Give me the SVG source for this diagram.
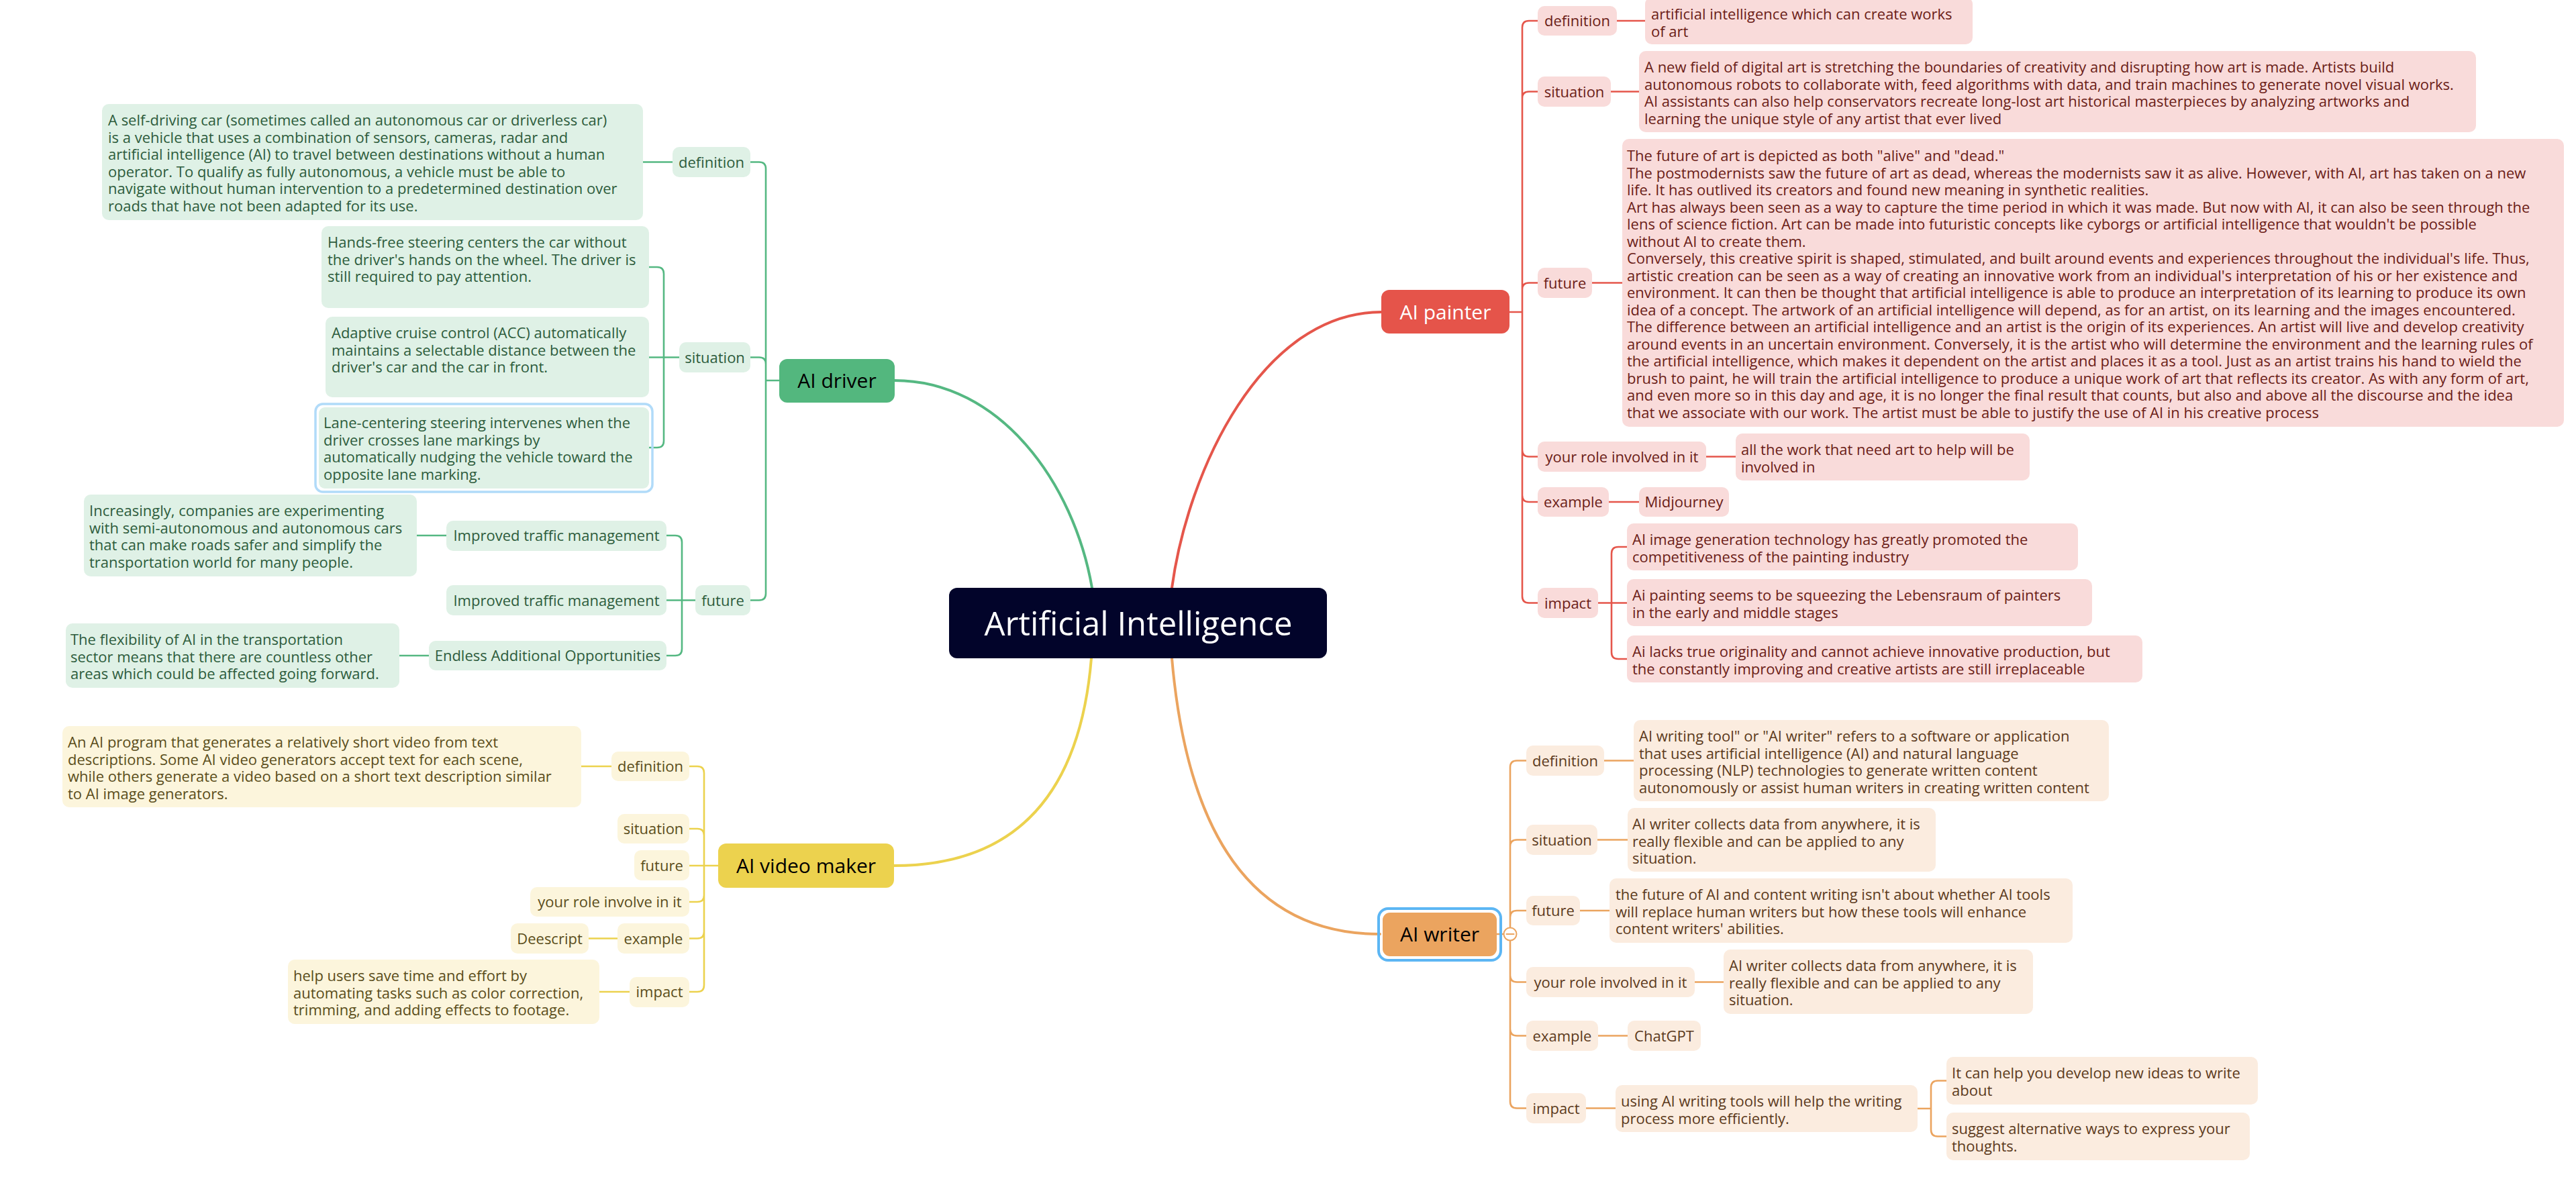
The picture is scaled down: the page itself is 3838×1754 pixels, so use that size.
<svg xmlns="http://www.w3.org/2000/svg" width="3838" height="1754" viewBox="0 0 3838 1754">
<style>
text{font-family:"Open Sans","Noto Sans","Liberation Sans",sans-serif;font-size:22px}
.lbl{text-anchor:middle}
.c{fill:none;stroke-linecap:round;stroke-linejoin:round}
.main{stroke-width:4}
.br{stroke-width:2.6}
.gS{stroke:#55b882}.gF{fill:#dff1e6}.gT{fill:#2d5c3c}
.rS{stroke:#e5564b}.rF{fill:#f9dbda}.rT{fill:#6b1d17}
.yS{stroke:#ecd24e}.yF{fill:#fcf5dc}.yT{fill:#5a4d1a}
.oS{stroke:#eba45f}.oF{fill:#fbecdf}.oT{fill:#5c3a1c}
.node{font-size:30px;text-anchor:middle}
</style>
<rect width="3838" height="1754" fill="#ffffff"/>
<g id="connectors">
<g class="c gS">
<path class="main" d="M1333,567 C1490,567 1600,720 1627,876"/>
<path class="br" d="M1161,567 H1141 M1141,251.5 V884.5 M1118,241.5 H1131 Q1141,241.5 1141,251.5 M1118,532.5 H1131 Q1141,532.5 1141,542.5 M1118,894.5 H1131 Q1141,894.5 1141,884.5"/>
<path class="br" d="M958,241.5 H1002 M967,532.5 H1012 M989,408 V657 M967,398 H979 Q989,398 989,408 M967,667 H979 Q989,667 989,657"/>
<path class="br" d="M993,894.5 H1036 M1016,808 V967 M993,798 H1006 Q1016,798 1016,808 M993,977 H1006 Q1016,977 1016,967 M621,798 H665 M595,977 H639"/>
</g>
<g class="c yS">
<path class="main" d="M1626,981 C1612,1150 1540,1290 1332,1290"/>
<path class="br" d="M1070,1290 H1027 M1049,1152 V1468 M1027,1142 H1039 Q1049,1142 1049,1152 M1027,1235 H1039 Q1049,1235 1049,1245 M1027,1344 H1039 Q1049,1344 1049,1334 M1027,1398.5 H1039 Q1049,1398.5 1049,1388.5 M1027,1478 H1039 Q1049,1478 1049,1468"/>
<path class="br" d="M866,1142 H911 M877,1398.5 H920 M893,1478 H938"/>
</g>
<g class="c rS">
<path class="main" d="M1746,876 C1770,700 1880,465 2058,465"/>
<path class="br" d="M2249,465 H2268 M2268,41 V888.5 M2291,31 H2278 Q2268,31 2268,41 M2291,136.5 H2278 Q2268,136.5 2268,146.5 M2291,421.5 H2278 Q2268,421.5 2268,431.5 M2291,680.5 H2278 Q2268,680.5 2268,670.5 M2291,748 H2278 Q2268,748 2268,738 M2291,898.5 H2278 Q2268,898.5 2268,888.5"/>
<path class="br" d="M2409,31 H2451 M2400,136.5 H2442 M2372,421.5 H2417 M2542,680.5 H2586 M2397,748 H2442 M2381,898.5 H2424 M2401,825 V972 M2424,815 H2411 Q2401,815 2401,825 M2424,982 H2411 Q2401,982 2401,972"/>
</g>
<g class="c oS">
<path class="main" d="M1746,981 C1765,1200 1840,1392 2056,1392"/>
<path class="br" d="M2230,1392 H2250 M2250,1143.5 V1641.5 M2274,1133.5 H2260 Q2250,1133.5 2250,1143.5 M2274,1251.5 H2260 Q2250,1251.5 2250,1261.5 M2274,1357 H2260 Q2250,1357 2250,1367 M2274,1463.5 H2260 Q2250,1463.5 2250,1453.5 M2274,1543.5 H2260 Q2250,1543.5 2250,1533.5 M2274,1651.5 H2260 Q2250,1651.5 2250,1641.5"/>
<path class="br" d="M2390,1133.5 H2434 M2380,1251.5 H2425 M2354,1357 H2398 M2525,1463.5 H2568 M2381,1543.5 H2425 M2363,1651.5 H2407 M2857,1652 H2877 M2877,1620.5 V1683.5 M2900,1610.5 H2887 Q2877,1610.5 2877,1620.5 M2900,1693.5 H2887 Q2877,1693.5 2877,1683.5"/>
<circle cx="2250" cy="1392" r="9.5" fill="#ffffff" stroke-width="2"/>
<path d="M2244.5,1392 H2255.5" stroke-width="2"/>
</g>
</g>

<g id="central">
<rect x="1414" y="876" width="563" height="105" rx="12" fill="#02042a"/>
<text x="1696" y="947" fill="#ffffff" font-size="49" text-anchor="middle" style="font-size:49px">Artificial Intelligence</text>
</g>

<!-- AI driver -->
<g id="ai-driver">
<rect x="1161" y="535" width="172" height="65" rx="12" fill="#53b77e"/>
<text class="node" x="1247" y="578" fill="#000000">AI driver</text>
</g>
<g id="driver-definition">
<rect class="gF" x="1002" y="219" width="116" height="45" rx="10"/>
<text class="lbl gT" x="1060" y="249.5">definition</text>
</g>
<g id="driver-definition-text">
<rect class="gF" x="152" y="155" width="806" height="173" rx="10"/>
<text class="gT"><tspan x="161" y="187">A self-driving car (sometimes called an autonomous car or driverless car)</tspan><tspan x="161" y="212.5">is a vehicle that uses a combination of sensors, cameras, radar and</tspan><tspan x="161" y="238">artificial intelligence (AI) to travel between destinations without a human</tspan><tspan x="161" y="263.5">operator. To qualify as fully autonomous, a vehicle must be able to</tspan><tspan x="161" y="289">navigate without human intervention to a predetermined destination over</tspan><tspan x="161" y="314.5">roads that have not been adapted for its use.</tspan></text>
</g>
<g id="driver-situation">
<rect class="gF" x="1012" y="510" width="106" height="45" rx="10"/>
<text class="lbl gT" x="1065" y="540.5">situation</text>
</g>
<g id="driver-handsfree">
<rect class="gF" x="479" y="337" width="488" height="122" rx="10"/>
<text class="gT"><tspan x="488" y="369">Hands-free steering centers the car without</tspan><tspan x="488" y="394.5">the driver's hands on the wheel. The driver is</tspan><tspan x="488" y="420">still required to pay attention.</tspan></text>
</g>
<g id="driver-acc">
<rect class="gF" x="485" y="472" width="482" height="120" rx="10"/>
<text class="gT"><tspan x="494" y="504">Adaptive cruise control (ACC) automatically</tspan><tspan x="494" y="529.5">maintains a selectable distance between the</tspan><tspan x="494" y="555">driver's car and the car in front.</tspan></text>
</g>
<g id="driver-lane">
<rect x="470" y="602" width="502" height="131" rx="11" fill="none" stroke="#b1dbf9" stroke-width="3.5"/>
<rect class="gF" x="475" y="607" width="492" height="121" rx="9"/>
<text class="gT"><tspan x="482" y="638">Lane-centering steering intervenes when the</tspan><tspan x="482" y="663.5">driver crosses lane markings by</tspan><tspan x="482" y="689">automatically nudging the vehicle toward the</tspan><tspan x="482" y="714.5">opposite lane marking.</tspan></text>
</g>
<g id="driver-future">
<rect class="gF" x="1036" y="872" width="82" height="45" rx="10"/>
<text class="lbl gT" x="1077" y="902.5">future</text>
</g>
<g id="driver-traffic-1">
<rect class="gF" x="665" y="776" width="328" height="45" rx="10"/>
<text class="lbl gT" x="829" y="806">Improved traffic management</text>
</g>
<g id="driver-traffic-1-text">
<rect class="gF" x="125" y="737" width="496" height="122" rx="10"/>
<text class="gT"><tspan x="133" y="769">Increasingly, companies are experimenting</tspan><tspan x="133" y="794.5">with semi-autonomous and autonomous cars</tspan><tspan x="133" y="820">that can make roads safer and simplify the</tspan><tspan x="133" y="845.5">transportation world for many people.</tspan></text>
</g>
<g id="driver-traffic-2">
<rect class="gF" x="665" y="872" width="328" height="45" rx="10"/>
<text class="lbl gT" x="829" y="902.5">Improved traffic management</text>
</g>
<g id="driver-opportunities">
<rect class="gF" x="639" y="955" width="354" height="44" rx="10"/>
<text class="lbl gT" x="816" y="985">Endless Additional Opportunities</text>
</g>
<g id="driver-opportunities-text">
<rect class="gF" x="98" y="929" width="497" height="96" rx="10"/>
<text class="gT"><tspan x="105" y="961">The flexibility of AI in the transportation</tspan><tspan x="105" y="986.5">sector means that there are countless other</tspan><tspan x="105" y="1012">areas which could be affected going forward.</tspan></text>
</g>

<!-- AI video maker -->
<g id="ai-video-maker">
<rect x="1070" y="1257" width="262" height="66" rx="12" fill="#ecd24e"/>
<text class="node" x="1201" y="1301" fill="#000000">AI video maker</text>
</g>
<g id="video-definition">
<rect class="yF" x="911" y="1120" width="116" height="44" rx="10"/>
<text class="lbl yT" x="969" y="1150">definition</text>
</g>
<g id="video-definition-text">
<rect class="yF" x="93" y="1082" width="773" height="121" rx="10"/>
<text class="yT"><tspan x="101" y="1114">An AI program that generates a relatively short video from text</tspan><tspan x="101" y="1139.5">descriptions. Some AI video generators accept text for each scene,</tspan><tspan x="101" y="1165">while others generate a video based on a short text description similar</tspan><tspan x="101" y="1190.5">to AI image generators.</tspan></text>
</g>
<g id="video-situation">
<rect class="yF" x="920" y="1213" width="107" height="44" rx="10"/>
<text class="lbl yT" x="973.5" y="1243">situation</text>
</g>
<g id="video-future">
<rect class="yF" x="945" y="1267" width="82" height="45" rx="10"/>
<text class="lbl yT" x="986" y="1297.5">future</text>
</g>
<g id="video-role">
<rect class="yF" x="790" y="1322" width="237" height="44" rx="10"/>
<text class="lbl yT" x="908.5" y="1352">your role involve in it</text>
</g>
<g id="video-example">
<rect class="yF" x="920" y="1376" width="107" height="45" rx="10"/>
<text class="lbl yT" x="973.5" y="1406.5">example</text>
</g>
<g id="video-deescript">
<rect class="yF" x="761" y="1376" width="116" height="45" rx="10"/>
<text class="lbl yT" x="819" y="1406.5">Deescript</text>
</g>
<g id="video-impact">
<rect class="yF" x="938" y="1456" width="89" height="45" rx="10"/>
<text class="lbl yT" x="982.5" y="1486">impact</text>
</g>
<g id="video-impact-text">
<rect class="yF" x="429" y="1430" width="464" height="96" rx="10"/>
<text class="yT"><tspan x="437" y="1462">help users save time and effort by</tspan><tspan x="437" y="1487.5">automating tasks such as color correction,</tspan><tspan x="437" y="1513">trimming, and adding effects to footage.</tspan></text>
</g>

<!-- AI painter -->
<g id="ai-painter">
<rect x="2058" y="432" width="191" height="65" rx="12" fill="#e5544a"/>
<text class="node" x="2153.5" y="476" fill="#ffffff">AI painter</text>
</g>
<g id="painter-definition">
<rect class="rF" x="2291" y="9" width="118" height="44" rx="10"/>
<text class="lbl rT" x="2350" y="39">definition</text>
</g>
<g id="painter-definition-text">
<rect class="rF" x="2451" y="-4" width="488" height="70" rx="10"/>
<text class="rT"><tspan x="2460" y="29">artificial intelligence which can create works</tspan><tspan x="2460" y="54.5">of art</tspan></text>
</g>
<g id="painter-situation">
<rect class="rF" x="2291" y="114" width="109" height="45" rx="10"/>
<text class="lbl rT" x="2345.5" y="144.5">situation</text>
</g>
<g id="painter-situation-text">
<rect class="rF" x="2442" y="76" width="1247" height="121" rx="10"/>
<text class="rT"><tspan x="2450" y="108">A new field of digital art is stretching the boundaries of creativity and disrupting how art is made. Artists build</tspan><tspan x="2450" y="133.5">autonomous robots to collaborate with, feed algorithms with data, and train machines to generate novel visual works.</tspan><tspan x="2450" y="159">AI assistants can also help conservators recreate long-lost art historical masterpieces by analyzing artworks and</tspan><tspan x="2450" y="184.5">learning the unique style of any artist that ever lived</tspan></text>
</g>
<g id="painter-future">
<rect class="rF" x="2291" y="399" width="81" height="45" rx="10"/>
<text class="lbl rT" x="2331.5" y="429.5">future</text>
</g>
<g id="painter-future-text">
<rect class="rF" x="2417" y="207" width="1403" height="429" rx="10"/>
<text class="rT"><tspan x="2424" y="240">The future of art is depicted as both "alive" and "dead."</tspan><tspan x="2424" y="265.5">The postmodernists saw the future of art as dead, whereas the modernists saw it as alive. However, with AI, art has taken on a new</tspan><tspan x="2424" y="291">life. It has outlived its creators and found new meaning in synthetic realities.</tspan><tspan x="2424" y="316.5">Art has always been seen as a way to capture the time period in which it was made. But now with AI, it can also be seen through the</tspan><tspan x="2424" y="342">lens of science fiction. Art can be made into futuristic concepts like cyborgs or artificial intelligence that wouldn't be possible</tspan><tspan x="2424" y="367.5">without AI to create them.</tspan><tspan x="2424" y="393">Conversely, this creative spirit is shaped, stimulated, and built around events and experiences throughout the individual's life. Thus,</tspan><tspan x="2424" y="418.5">artistic creation can be seen as a way of creating an innovative work from an individual's interpretation of his or her existence and</tspan><tspan x="2424" y="444">environment. It can then be thought that artificial intelligence is able to produce an interpretation of its learning to produce its own</tspan><tspan x="2424" y="469.5">idea of a concept. The artwork of an artificial intelligence will depend, as for an artist, on its learning and the images encountered.</tspan><tspan x="2424" y="495">The difference between an artificial intelligence and an artist is the origin of its experiences. An artist will live and develop creativity</tspan><tspan x="2424" y="520.5">around events in an uncertain environment. Conversely, it is the artist who will determine the environment and the learning rules of</tspan><tspan x="2424" y="546">the artificial intelligence, which makes it dependent on the artist and places it as a tool. Just as an artist trains his hand to wield the</tspan><tspan x="2424" y="571.5">brush to paint, he will train the artificial intelligence to produce a unique work of art that reflects its creator. As with any form of art,</tspan><tspan x="2424" y="597">and even more so in this day and age, it is no longer the final result that counts, but also and above all the discourse and the idea</tspan><tspan x="2424" y="622.5">that we associate with our work. The artist must be able to justify the use of AI in his creative process</tspan></text>
</g>
<g id="painter-role">
<rect class="rF" x="2291" y="658" width="251" height="45" rx="10"/>
<text class="lbl rT" x="2416.5" y="688.5">your role involved in it</text>
</g>
<g id="painter-role-text">
<rect class="rF" x="2586" y="646" width="438" height="70" rx="10"/>
<text class="rT"><tspan x="2594" y="678">all the work that need art to help will be</tspan><tspan x="2594" y="703.5">involved in</tspan></text>
</g>
<g id="painter-example">
<rect class="rF" x="2291" y="726" width="106" height="44" rx="10"/>
<text class="lbl rT" x="2344" y="756">example</text>
</g>
<g id="painter-midjourney">
<rect class="rF" x="2442" y="726" width="134" height="44" rx="10"/>
<text class="lbl rT" x="2509" y="756">Midjourney</text>
</g>
<g id="painter-impact">
<rect class="rF" x="2291" y="876" width="90" height="45" rx="10"/>
<text class="lbl rT" x="2336" y="906.5">impact</text>
</g>
<g id="painter-impact-1">
<rect class="rF" x="2424" y="780" width="672" height="70" rx="10"/>
<text class="rT"><tspan x="2432" y="812">AI image generation technology has greatly promoted the</tspan><tspan x="2432" y="837.5">competitiveness of the painting industry</tspan></text>
</g>
<g id="painter-impact-2">
<rect class="rF" x="2424" y="863" width="693" height="70" rx="10"/>
<text class="rT"><tspan x="2432" y="895">Ai painting seems to be squeezing the Lebensraum of painters</tspan><tspan x="2432" y="920.5">in the early and middle stages</tspan></text>
</g>
<g id="painter-impact-3">
<rect class="rF" x="2424" y="947" width="768" height="70" rx="10"/>
<text class="rT"><tspan x="2432" y="979">Ai lacks true originality and cannot achieve innovative production, but</tspan><tspan x="2432" y="1004.5">the constantly improving and creative artists are still irreplaceable</tspan></text>
</g>

<!-- AI writer -->
<g id="ai-writer">
<rect x="2054" y="1354" width="182" height="77" rx="14" fill="none" stroke="#5cb6f4" stroke-width="4"/>
<rect x="2060" y="1360" width="170" height="65" rx="11" fill="#eba45f"/>
<text class="node" x="2145" y="1403" fill="#000000">AI writer</text>
</g>
<g id="writer-definition">
<rect class="oF" x="2274" y="1111" width="116" height="45" rx="10"/>
<text class="lbl oT" x="2332" y="1141.5">definition</text>
</g>
<g id="writer-definition-text">
<rect class="oF" x="2434" y="1073" width="708" height="121" rx="10"/>
<text class="oT"><tspan x="2442" y="1105">AI writing tool" or "AI writer" refers to a software or application</tspan><tspan x="2442" y="1130.5">that uses artificial intelligence (AI) and natural language</tspan><tspan x="2442" y="1156">processing (NLP) technologies to generate written content</tspan><tspan x="2442" y="1181.5">autonomously or assist human writers in creating written content</tspan></text>
</g>
<g id="writer-situation">
<rect class="oF" x="2274" y="1229" width="106" height="45" rx="10"/>
<text class="lbl oT" x="2327" y="1259.5">situation</text>
</g>
<g id="writer-situation-text">
<rect class="oF" x="2425" y="1204" width="459" height="95" rx="10"/>
<text class="oT"><tspan x="2432" y="1236">AI writer collects data from anywhere, it is</tspan><tspan x="2432" y="1261.5">really flexible and can be applied to any</tspan><tspan x="2432" y="1287">situation.</tspan></text>
</g>
<g id="writer-future">
<rect class="oF" x="2274" y="1335" width="80" height="44" rx="10"/>
<text class="lbl oT" x="2314" y="1365">future</text>
</g>
<g id="writer-future-text">
<rect class="oF" x="2398" y="1309" width="690" height="96" rx="10"/>
<text class="oT"><tspan x="2407" y="1341">the future of AI and content writing isn't about whether AI tools</tspan><tspan x="2407" y="1366.5">will replace human writers but how these tools will enhance</tspan><tspan x="2407" y="1392">content writers' abilities.</tspan></text>
</g>
<g id="writer-role">
<rect class="oF" x="2274" y="1441" width="251" height="45" rx="10"/>
<text class="lbl oT" x="2399.5" y="1471.5">your role involved in it</text>
</g>
<g id="writer-role-text">
<rect class="oF" x="2568" y="1415" width="461" height="96" rx="10"/>
<text class="oT"><tspan x="2576" y="1447">AI writer collects data from anywhere, it is</tspan><tspan x="2576" y="1472.5">really flexible and can be applied to any</tspan><tspan x="2576" y="1498">situation.</tspan></text>
</g>
<g id="writer-example">
<rect class="oF" x="2274" y="1521" width="107" height="45" rx="10"/>
<text class="lbl oT" x="2327.5" y="1551.5">example</text>
</g>
<g id="writer-chatgpt">
<rect class="oF" x="2425" y="1521" width="109" height="45" rx="10"/>
<text class="lbl oT" x="2479.5" y="1551.5">ChatGPT</text>
</g>
<g id="writer-impact">
<rect class="oF" x="2274" y="1629" width="89" height="45" rx="10"/>
<text class="lbl oT" x="2318.5" y="1659.5">impact</text>
</g>
<g id="writer-impact-text">
<rect class="oF" x="2407" y="1617" width="450" height="70" rx="10"/>
<text class="oT"><tspan x="2415" y="1649">using AI writing tools will help the writing</tspan><tspan x="2415" y="1674.5">process more efficiently.</tspan></text>
</g>
<g id="writer-impact-ideas">
<rect class="oF" x="2900" y="1575" width="464" height="71" rx="10"/>
<text class="oT"><tspan x="2908" y="1607">It can help you develop new ideas to write</tspan><tspan x="2908" y="1632.5">about</tspan></text>
</g>
<g id="writer-impact-express">
<rect class="oF" x="2900" y="1658" width="452" height="71" rx="10"/>
<text class="oT"><tspan x="2908" y="1690">suggest alternative ways to express your</tspan><tspan x="2908" y="1715.5">thoughts.</tspan></text>
</g>
</svg>
